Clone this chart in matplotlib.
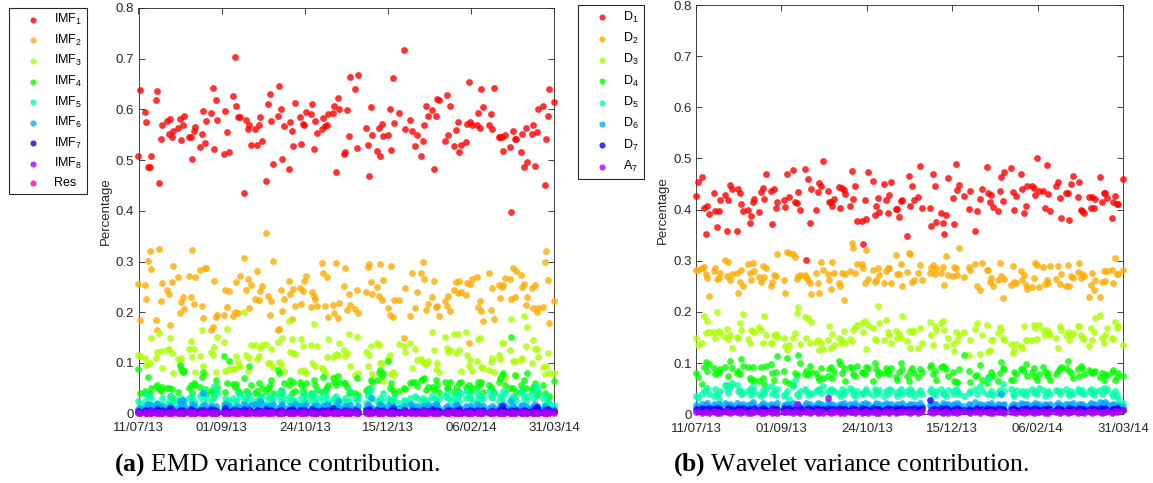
import numpy as np
import pandas as pd
import matplotlib
matplotlib.use('Agg')
import matplotlib.pyplot as plt
import matplotlib.dates as mdates

plt.rcParams['font.family'] = ['Liberation Sans', 'DejaVu Sans']
plt.rcParams['mathtext.fontset'] = 'custom'
plt.rcParams['mathtext.rm'] = 'Liberation Sans'
plt.rcParams['mathtext.it'] = 'Liberation Sans:italic'
plt.rcParams['mathtext.bf'] = 'Liberation Serif:bold'

# trading days of the sample
start_date = '2013-07-11'
end_date = '2014-03-31'
holidays = ['2013-09-02', '2013-11-28', '2013-11-29', '2013-12-24', '2013-12-25',
            '2014-01-01', '2014-01-20', '2014-02-17']
tick_labels = ['11/07/13', '01/09/13', '24/10/13', '15/12/13', '06/02/14', '31/03/14']

# --- (a) EMD variance contribution ---
imf1 = [0.509, 0.639, 0.595, 0.576, 0.487, 0.487, 0.508, 0.618, 0.636, 0.455,
        0.541, 0.569, 0.577, 0.551, 0.582, 0.545, 0.557, 0.563, 0.582, 0.539, 0.570,
        0.588, 0.545, 0.545, 0.503, 0.557, 0.566, 0.526, 0.552, 0.596, 0.533,
        0.578, 0.593, 0.643, 0.521, 0.618, 0.580, 0.513, 0.596, 0.555, 0.516,
        0.627, 0.703, 0.606, 0.585, 0.585, 0.436, 0.579, 0.562, 0.570, 0.530,
        0.561, 0.529, 0.570, 0.586, 0.538, 0.459, 0.611, 0.631, 0.578, 0.492,
        0.587, 0.647, 0.601, 0.502, 0.568, 0.483, 0.575, 0.557, 0.528, 0.613,
        0.585, 0.531, 0.572, 0.569, 0.595, 0.590, 0.610, 0.522, 0.578, 0.554,
        0.561, 0.584, 0.567, 0.569, 0.590, 0.592, 0.606, 0.476, 0.622, 0.601,
        0.513, 0.516, 0.598, 0.547, 0.664, 0.640, 0.524, 0.668, 0.564, 0.530,
        0.469, 0.604, 0.549, 0.518, 0.564, 0.508, 0.572, 0.547, 0.550, 0.600,
        0.520, 0.661, 0.573, 0.592, 0.717, 0.561, 0.580, 0.558, 0.528, 0.550, 0.509,
        0.538, 0.569, 0.607, 0.587, 0.598, 0.482, 0.588, 0.620, 0.618, 0.538,
        0.628, 0.550, 0.606, 0.528, 0.560, 0.575, 0.517, 0.530, 0.535, 0.572,
        0.655, 0.575, 0.570, 0.570, 0.593, 0.563, 0.640, 0.604, 0.570, 0.591,
        0.561, 0.643, 0.545, 0.545, 0.545, 0.518, 0.549, 0.526, 0.397, 0.557,
        0.542, 0.542, 0.517, 0.552, 0.486, 0.564, 0.497, 0.552, 0.569, 0.488,
        0.555, 0.600, 0.607, 0.450, 0.542, 0.587, 0.640, 0.615]
imf2 = [0.255, 0.185, 0.254, 0.226, 0.302, 0.321, 0.286, 0.184, 0.166, 0.325,
        0.222, 0.257, 0.243, 0.236, 0.174, 0.260, 0.291, 0.270, 0.199, 0.220, 0.231,
        0.207, 0.272, 0.230, 0.323, 0.217, 0.269, 0.283, 0.212, 0.189, 0.288,
        0.287, 0.166, 0.171, 0.261, 0.191, 0.194, 0.195, 0.243, 0.211, 0.241,
        0.193, 0.201, 0.259, 0.199, 0.272, 0.308, 0.244, 0.265, 0.208, 0.254,
        0.226, 0.282, 0.225, 0.242, 0.251, 0.357, 0.232, 0.195, 0.222, 0.302,
        0.166, 0.167, 0.244, 0.203, 0.226, 0.261, 0.237, 0.186, 0.245, 0.213,
        0.248, 0.216, 0.241, 0.262, 0.272, 0.211, 0.240, 0.232, 0.226, 0.212,
        0.297, 0.278, 0.212, 0.269, 0.191, 0.214, 0.198, 0.297, 0.188, 0.218,
        0.251, 0.288, 0.205, 0.236, 0.214, 0.207, 0.243, 0.198, 0.240, 0.290,
        0.295, 0.259, 0.236, 0.249, 0.232, 0.295, 0.224, 0.264, 0.209, 0.195,
        0.291, 0.190, 0.224, 0.224, 0.149, 0.248, 0.192, 0.278, 0.209, 0.240, 0.277,
        0.299, 0.266, 0.205, 0.216, 0.230, 0.262, 0.210, 0.213, 0.193, 0.222,
        0.212, 0.232, 0.202, 0.243, 0.259, 0.238, 0.261, 0.239, 0.235, 0.257,
        0.140, 0.255, 0.266, 0.269, 0.211, 0.222, 0.203, 0.183, 0.278, 0.204,
        0.247, 0.186, 0.254, 0.229, 0.249, 0.254, 0.267, 0.266, 0.227, 0.287,
        0.231, 0.282, 0.274, 0.249, 0.255, 0.214, 0.230, 0.247, 0.209, 0.253,
        0.201, 0.208, 0.211, 0.300, 0.321, 0.264, 0.178, 0.223]
imf3 = [0.115, 0.113, 0.110, 0.097, 0.098, 0.100, 0.150, 0.110, 0.122, 0.160,
        0.123, 0.090, 0.125, 0.127, 0.150, 0.120, 0.081, 0.108, 0.097, 0.110, 0.083,
        0.085, 0.128, 0.143, 0.111, 0.128, 0.082, 0.113, 0.165, 0.095, 0.078,
        0.048, 0.122, 0.116, 0.131, 0.082, 0.152, 0.142, 0.085, 0.168, 0.088,
        0.089, 0.090, 0.113, 0.102, 0.095, 0.200, 0.115, 0.085, 0.110, 0.135,
        0.135, 0.107, 0.113, 0.130, 0.135, 0.137, 0.100, 0.100, 0.128, 0.093,
        0.142, 0.102, 0.098, 0.150, 0.085, 0.183, 0.122, 0.148, 0.120, 0.117,
        0.085, 0.148, 0.133, 0.086, 0.080, 0.135, 0.100, 0.177, 0.095, 0.133,
        0.090, 0.088, 0.080, 0.112, 0.148, 0.112, 0.072, 0.117, 0.115, 0.140,
        0.125, 0.113, 0.120, 0.157, 0.095, 0.076, 0.152, 0.080, 0.122, 0.095,
        0.115, 0.134, 0.078, 0.139, 0.136, 0.100, 0.100, 0.065, 0.110, 0.116,
        0.078, 0.082, 0.077, 0.137, 0.133, 0.122, 0.140, 0.090, 0.128, 0.105, 0.107,
        0.102, 0.100, 0.098, 0.103, 0.162, 0.125, 0.088, 0.100, 0.082, 0.152,
        0.130, 0.122, 0.125, 0.157, 0.120, 0.157, 0.126, 0.085, 0.162, 0.115,
        0.095, 0.105, 0.085, 0.103, 0.148, 0.150, 0.093, 0.090, 0.087, 0.102,
        0.110, 0.082, 0.115, 0.108, 0.139, 0.139, 0.072, 0.125, 0.187, 0.103,
        0.103, 0.075, 0.105, 0.110, 0.192, 0.133, 0.170, 0.100, 0.145, 0.128,
        0.128, 0.112, 0.093, 0.078, 0.095, 0.120, 0.080, 0.080]
imf4 = [0.088, 0.041, 0.045, 0.040, 0.073, 0.040, 0.050, 0.053, 0.057, 0.049,
        0.045, 0.052, 0.050, 0.050, 0.034, 0.048, 0.030, 0.043, 0.096, 0.089, 0.083,
        0.085, 0.050, 0.057, 0.040, 0.060, 0.057, 0.053, 0.073, 0.083, 0.040,
        0.040, 0.045, 0.047, 0.035, 0.066, 0.053, 0.114, 0.043, 0.060, 0.103,
        0.059, 0.053, 0.059, 0.045, 0.040, 0.070, 0.045, 0.040, 0.095, 0.057,
        0.040, 0.045, 0.060, 0.035, 0.050, 0.045, 0.050, 0.057, 0.066, 0.040,
        0.086, 0.080, 0.047, 0.043, 0.060, 0.057, 0.066, 0.040, 0.063, 0.045,
        0.063, 0.057, 0.047, 0.040, 0.061, 0.040, 0.035, 0.066, 0.057, 0.047,
        0.043, 0.073, 0.047, 0.053, 0.057, 0.070, 0.063, 0.057, 0.074, 0.063,
        0.060, 0.060, 0.053, 0.040, 0.043, 0.040, 0.070, 0.037, 0.047, 0.040,
        0.050, 0.066, 0.063, 0.066, 0.080, 0.086, 0.074, 0.080, 0.103, 0.050,
        0.060, 0.047, 0.040, 0.045, 0.050, 0.048, 0.060, 0.062, 0.063, 0.055, 0.066,
        0.068, 0.070, 0.047, 0.053, 0.053, 0.047, 0.066, 0.057, 0.042, 0.063,
        0.050, 0.050, 0.063, 0.043, 0.053, 0.045, 0.060, 0.063, 0.053, 0.047,
        0.057, 0.043, 0.050, 0.053, 0.063, 0.057, 0.063, 0.043, 0.057, 0.053,
        0.047, 0.043, 0.063, 0.070, 0.076, 0.080, 0.057, 0.050, 0.152, 0.050,
        0.076, 0.043, 0.057, 0.047, 0.066, 0.050, 0.080, 0.047, 0.053, 0.060,
        0.037, 0.040, 0.057, 0.040, 0.034, 0.030, 0.034, 0.065]
imf5 = [0.026, 0.020, 0.025, 0.038, 0.035, 0.018, 0.030, 0.020, 0.022, 0.015,
        0.020, 0.030, 0.018, 0.025, 0.035, 0.025, 0.020, 0.028, 0.020, 0.030, 0.025,
        0.022, 0.030, 0.028, 0.035, 0.025, 0.020, 0.035, 0.040, 0.025, 0.048,
        0.035, 0.025, 0.030, 0.055, 0.045, 0.040, 0.020, 0.030, 0.028, 0.025,
        0.030, 0.020, 0.025, 0.040, 0.035, 0.025, 0.030, 0.038, 0.030, 0.020,
        0.025, 0.020, 0.030, 0.028, 0.035, 0.020, 0.030, 0.035, 0.025, 0.030,
        0.040, 0.035, 0.025, 0.045, 0.030, 0.025, 0.035, 0.028, 0.020, 0.025,
        0.020, 0.030, 0.040, 0.025, 0.030, 0.038, 0.025, 0.040, 0.022, 0.030,
        0.035, 0.025, 0.040, 0.030, 0.020, 0.025, 0.030, 0.035, 0.028, 0.020,
        0.025, 0.030, 0.020, 0.025, 0.045, 0.030, 0.025, 0.030, 0.022, 0.035,
        0.040, 0.048, 0.030, 0.025, 0.020, 0.030, 0.025, 0.040, 0.030, 0.028,
        0.020, 0.025, 0.030, 0.022, 0.028, 0.025, 0.030, 0.020, 0.035, 0.030, 0.025,
        0.030, 0.025, 0.020, 0.028, 0.035, 0.030, 0.022, 0.025, 0.030, 0.035,
        0.040, 0.030, 0.025, 0.030, 0.040, 0.035, 0.025, 0.040, 0.030, 0.045,
        0.035, 0.030, 0.025, 0.040, 0.030, 0.035, 0.025, 0.030, 0.045, 0.035,
        0.030, 0.040, 0.025, 0.035, 0.030, 0.045, 0.040, 0.025, 0.030, 0.035,
        0.030, 0.025, 0.045, 0.040, 0.030, 0.025, 0.035, 0.040, 0.030, 0.055,
        0.050, 0.040, 0.030, 0.020, 0.035, 0.025, 0.020, 0.018]
imf6 = [0.010, 0.012, 0.008, 0.015, 0.020, 0.010, 0.018, 0.012, 0.020, 0.015,
        0.010, 0.015, 0.012, 0.008, 0.015, 0.012, 0.010, 0.012, 0.025, 0.020, 0.028,
        0.015, 0.010, 0.012, 0.020, 0.015, 0.008, 0.010, 0.015, 0.040, 0.018,
        0.010, 0.015, 0.012, 0.010, 0.015, 0.008, 0.012, 0.020, 0.018, 0.015,
        0.010, 0.012, 0.008, 0.015, 0.010, 0.020, 0.015, 0.012, 0.010, 0.018,
        0.020, 0.015, 0.010, 0.025, 0.020, 0.012, 0.015, 0.010, 0.015, 0.020,
        0.012, 0.010, 0.015, 0.020, 0.012, 0.008, 0.015, 0.010, 0.012, 0.020,
        0.015, 0.012, 0.010, 0.015, 0.020, 0.010, 0.012, 0.015, 0.010, 0.018,
        0.012, 0.015, 0.010, 0.020, 0.015, 0.012, 0.010, 0.015, 0.025, 0.012,
        0.010, 0.015, 0.012, 0.010, 0.018, 0.012, 0.010, 0.015, 0.012, 0.020,
        0.015, 0.030, 0.012, 0.010, 0.015, 0.020, 0.015, 0.012, 0.018, 0.010,
        0.012, 0.015, 0.010, 0.012, 0.015, 0.010, 0.020, 0.015, 0.012, 0.015, 0.010,
        0.015, 0.012, 0.010, 0.018, 0.015, 0.012, 0.020, 0.015, 0.010, 0.012,
        0.015, 0.012, 0.010, 0.015, 0.020, 0.015, 0.012, 0.010, 0.015, 0.012,
        0.010, 0.015, 0.012, 0.020, 0.015, 0.012, 0.010, 0.015, 0.012, 0.010,
        0.015, 0.012, 0.010, 0.015, 0.012, 0.020, 0.015, 0.012, 0.025, 0.015,
        0.012, 0.010, 0.015, 0.018, 0.012, 0.015, 0.010, 0.012, 0.015, 0.020,
        0.015, 0.012, 0.010, 0.015, 0.012, 0.010, 0.008, 0.010]
imf7 = [0.006, 0.004, 0.008, 0.005, 0.003, 0.007, 0.004, 0.006, 0.009, 0.005,
        0.004, 0.007, 0.005, 0.003, 0.012, 0.005, 0.006, 0.004, 0.008, 0.005, 0.007,
        0.003, 0.005, 0.009, 0.004, 0.006, 0.003, 0.008, 0.005, 0.007, 0.004,
        0.006, 0.010, 0.004, 0.007, 0.005, 0.003, 0.006, 0.012, 0.005, 0.004,
        0.007, 0.005, 0.008, 0.004, 0.006, 0.010, 0.005, 0.003, 0.007, 0.006,
        0.004, 0.008, 0.005, 0.006, 0.003, 0.009, 0.005, 0.004, 0.007, 0.005,
        0.006, 0.004, 0.008, 0.005, 0.003, 0.007, 0.006, 0.010, 0.004, 0.005,
        0.007, 0.005, 0.004, 0.008, 0.006, 0.003, 0.009, 0.005, 0.004, 0.006,
        0.008, 0.005, 0.006, 0.004, 0.007, 0.012, 0.005, 0.003, 0.006, 0.004,
        0.005, 0.008, 0.004, 0.006, 0.003, 0.007, 0.005, 0.004, 0.008, 0.006,
        0.010, 0.005, 0.004, 0.007, 0.006, 0.003, 0.005, 0.008, 0.004, 0.006,
        0.005, 0.012, 0.006, 0.004, 0.007, 0.005, 0.003, 0.008, 0.006, 0.006, 0.004,
        0.007, 0.005, 0.004, 0.006, 0.009, 0.005, 0.003, 0.007, 0.006, 0.004,
        0.005, 0.008, 0.006, 0.004, 0.007, 0.005, 0.010, 0.004, 0.006, 0.005,
        0.004, 0.007, 0.005, 0.008, 0.006, 0.003, 0.005, 0.007, 0.004, 0.006,
        0.006, 0.004, 0.008, 0.005, 0.015, 0.010, 0.006, 0.004, 0.007, 0.005,
        0.005, 0.007, 0.004, 0.006, 0.008, 0.005, 0.003, 0.006, 0.007, 0.012,
        0.014, 0.006, 0.004, 0.007, 0.005, 0.010, 0.004, 0.005]
imf8 = [0.003, 0.002, 0.004, 0.002, 0.003, 0.005, 0.002, 0.003, 0.004, 0.002,
        0.003, 0.002, 0.004, 0.003, 0.002, 0.003, 0.005, 0.002, 0.003, 0.004,
        0.002, 0.003, 0.006, 0.002, 0.004, 0.003, 0.002, 0.003, 0.004, 0.002,
        0.003, 0.005, 0.002, 0.003, 0.004, 0.002, 0.003, 0.002, 0.004, 0.003,
        0.002, 0.004, 0.003, 0.005, 0.002, 0.003, 0.004, 0.002, 0.003, 0.006,
        0.003, 0.002, 0.004, 0.003, 0.002, 0.005, 0.003, 0.002, 0.004, 0.003,
        0.004, 0.002, 0.003, 0.002, 0.005, 0.003, 0.002, 0.004, 0.003, 0.002,
        0.003, 0.004, 0.002, 0.003, 0.005, 0.002, 0.003, 0.004, 0.002, 0.003,
        0.002, 0.003, 0.004, 0.002, 0.006, 0.003, 0.002, 0.004, 0.003, 0.002,
        0.004, 0.003, 0.002, 0.005, 0.003, 0.002, 0.004, 0.003, 0.002, 0.003,
        0.003, 0.002, 0.004, 0.003, 0.005, 0.002, 0.003, 0.002, 0.004, 0.003,
        0.002, 0.004, 0.003, 0.002, 0.003, 0.005, 0.002, 0.004, 0.003, 0.002,
        0.003, 0.002, 0.005, 0.003, 0.002, 0.004, 0.003, 0.002, 0.003, 0.004,
        0.002, 0.003, 0.004, 0.002, 0.003, 0.005, 0.002, 0.003, 0.004, 0.002,
        0.003, 0.004, 0.002, 0.003, 0.002, 0.004, 0.003, 0.005, 0.002, 0.003,
        0.004, 0.002, 0.003, 0.005, 0.002, 0.003, 0.004, 0.002, 0.003, 0.002,
        0.003, 0.004, 0.002, 0.003, 0.005, 0.002, 0.003, 0.004, 0.002, 0.003,
        0.002, 0.003, 0.004, 0.002, 0.003, 0.005, 0.002, 0.003, 0.004, 0.003]
res = [0.001, 0.001, 0.001, 0.001, 0.001, 0.001, 0.001, 0.001, 0.001, 0.001,
       0.001, 0.001, 0.001, 0.001, 0.001, 0.001, 0.001, 0.001, 0.001, 0.001,
       0.001, 0.001, 0.001, 0.001, 0.001, 0.001, 0.001, 0.001, 0.001, 0.004,
       0.001, 0.001, 0.001, 0.001, 0.001, 0.001, 0.001, 0.001, 0.001, 0.001,
       0.001, 0.001, 0.001, 0.001, 0.001, 0.001, 0.001, 0.001, 0.001, 0.001,
       0.001, 0.001, 0.001, 0.001, 0.001, 0.001, 0.001, 0.001, 0.001, 0.001,
       0.001, 0.001, 0.001, 0.001, 0.001, 0.001, 0.001, 0.001, 0.001, 0.001,
       0.001, 0.001, 0.001, 0.001, 0.001, 0.004, 0.001, 0.001, 0.001, 0.001,
       0.001, 0.001, 0.001, 0.001, 0.001, 0.001, 0.001, 0.001, 0.001, 0.001,
       0.001, 0.001, 0.001, 0.001, 0.001, 0.001, 0.001, 0.001, 0.001, 0.001,
       0.001, 0.001, 0.001, 0.001, 0.001, 0.001, 0.001, 0.003, 0.001, 0.001,
       0.001, 0.001, 0.001, 0.001, 0.001, 0.001, 0.001, 0.001, 0.001, 0.001,
       0.001, 0.001, 0.001, 0.001, 0.001, 0.001, 0.001, 0.001, 0.001, 0.001,
       0.001, 0.001, 0.001, 0.001, 0.001, 0.001, 0.001, 0.001, 0.001, 0.001,
       0.001, 0.001, 0.001, 0.004, 0.001, 0.001, 0.001, 0.001, 0.001, 0.001,
       0.001, 0.001, 0.001, 0.001, 0.001, 0.001, 0.001, 0.001, 0.001, 0.001,
       0.001, 0.001, 0.001, 0.004, 0.001, 0.001, 0.001, 0.001, 0.001, 0.001,
       0.001, 0.001, 0.001, 0.001, 0.001, 0.001, 0.001, 0.001, 0.001, 0.001]

# --- (b) Wavelet variance contribution ---
d1 = [0.427, 0.454, 0.463, 0.404, 0.352, 0.408, 0.392, 0.433, 0.397, 0.367,
      0.397, 0.418, 0.428, 0.359, 0.418, 0.449, 0.441, 0.358, 0.440, 0.433,
      0.412, 0.397, 0.400, 0.373, 0.388, 0.415, 0.420, 0.395, 0.435, 0.443,
      0.420, 0.469, 0.436, 0.371, 0.440, 0.404, 0.414, 0.418, 0.405, 0.469,
      0.424, 0.477, 0.415, 0.413, 0.435, 0.400, 0.479, 0.301, 0.459, 0.373, 0.441,
      0.400, 0.435, 0.452, 0.446, 0.495, 0.436, 0.415, 0.415, 0.408, 0.420,
      0.444, 0.404, 0.442, 0.438, 0.430, 0.408, 0.475, 0.420, 0.446, 0.377,
      0.377, 0.332, 0.418, 0.382, 0.474, 0.456, 0.390, 0.408, 0.422, 0.395, 0.450,
      0.418, 0.394, 0.428, 0.454, 0.402, 0.402, 0.386, 0.416, 0.418, 0.348,
      0.465, 0.408, 0.446, 0.418, 0.425, 0.486, 0.403, 0.403, 0.369, 0.469,
      0.446, 0.375, 0.394, 0.373, 0.352, 0.389, 0.461, 0.422, 0.371, 0.489,
      0.439, 0.449, 0.427, 0.401, 0.437, 0.359, 0.397, 0.420, 0.440, 0.484,
      0.433, 0.415, 0.428, 0.405, 0.397, 0.437, 0.464, 0.416, 0.473, 0.482,
      0.435, 0.399, 0.426, 0.469, 0.440, 0.393, 0.408, 0.446, 0.446, 0.443,
      0.429, 0.501, 0.437, 0.436, 0.404, 0.488, 0.431, 0.397, 0.446, 0.454,
      0.423, 0.383, 0.433, 0.433, 0.380, 0.450, 0.465, 0.424, 0.454, 0.400,
      0.397, 0.393, 0.425, 0.404, 0.425, 0.404, 0.420, 0.463, 0.414, 0.433,
      0.433, 0.423, 0.384, 0.414, 0.427, 0.412, 0.411, 0.459]
d2 = [0.282, 0.282, 0.285, 0.288, 0.274, 0.267, 0.231, 0.280, 0.285, 0.265,
      0.267, 0.277, 0.301, 0.270, 0.298, 0.262, 0.274, 0.276, 0.238, 0.259,
      0.283, 0.250, 0.293, 0.276, 0.262, 0.296, 0.280, 0.269, 0.259, 0.290,
      0.269, 0.286, 0.250, 0.259, 0.272, 0.270, 0.313, 0.263, 0.237, 0.318,
      0.316, 0.313, 0.308, 0.265, 0.270, 0.272, 0.272, 0.268, 0.262, 0.256, 0.235,
      0.276, 0.256, 0.237, 0.298, 0.283, 0.274, 0.263, 0.244, 0.297, 0.276,
      0.256, 0.250, 0.276, 0.223, 0.274, 0.280, 0.334, 0.326, 0.276, 0.293,
      0.293, 0.285, 0.256, 0.322, 0.265, 0.282, 0.259, 0.263, 0.285, 0.272, 0.256,
      0.280, 0.285, 0.285, 0.256, 0.311, 0.275, 0.275, 0.293, 0.250, 0.278,
      0.316, 0.313, 0.259, 0.262, 0.276, 0.292, 0.262, 0.276, 0.285, 0.292,
      0.274, 0.285, 0.276, 0.288, 0.252, 0.309, 0.272, 0.270, 0.288, 0.285,
      0.272, 0.326, 0.269, 0.288, 0.282, 0.293, 0.250, 0.242, 0.296, 0.282,
      0.283, 0.259, 0.267, 0.250, 0.262, 0.295, 0.270, 0.228, 0.265, 0.252,
      0.290, 0.259, 0.257, 0.280, 0.262, 0.272, 0.252, 0.244, 0.248, 0.267,
      0.295, 0.292, 0.248, 0.288, 0.254, 0.262, 0.256, 0.290, 0.265, 0.290,
      0.254, 0.275, 0.250, 0.292, 0.250, 0.270, 0.267, 0.278, 0.296, 0.267,
      0.274, 0.270, 0.229, 0.252, 0.276, 0.242, 0.262, 0.229, 0.259, 0.280,
      0.261, 0.280, 0.282, 0.257, 0.305, 0.274, 0.275, 0.283]
d3 = [0.150, 0.135, 0.140, 0.193, 0.158, 0.182, 0.160, 0.160, 0.150, 0.200,
      0.162, 0.158, 0.152, 0.167, 0.148, 0.155, 0.130, 0.152, 0.150, 0.178,
      0.165, 0.197, 0.148, 0.140, 0.165, 0.162, 0.160, 0.170, 0.165, 0.140,
      0.192, 0.155, 0.140, 0.140, 0.155, 0.157, 0.152, 0.150, 0.133, 0.125,
      0.135, 0.150, 0.158, 0.198, 0.210, 0.138, 0.190, 0.150, 0.188, 0.140, 0.180,
      0.142, 0.145, 0.125, 0.140, 0.128, 0.145, 0.173, 0.130, 0.157, 0.135,
      0.150, 0.140, 0.145, 0.163, 0.140, 0.148, 0.143, 0.165, 0.170, 0.175,
      0.178, 0.160, 0.183, 0.127, 0.175, 0.168, 0.148, 0.145, 0.212, 0.178, 0.145,
      0.185, 0.160, 0.155, 0.140, 0.163, 0.150, 0.157, 0.150, 0.193, 0.143,
      0.162, 0.130, 0.162, 0.163, 0.130, 0.168, 0.140, 0.180, 0.155, 0.135,
      0.172, 0.165, 0.178, 0.182, 0.165, 0.133, 0.150, 0.138, 0.123, 0.160,
      0.145, 0.155, 0.160, 0.115, 0.145, 0.167, 0.178, 0.118, 0.155, 0.175,
      0.122, 0.125, 0.145, 0.145, 0.158, 0.170, 0.165, 0.150, 0.145, 0.137,
      0.120, 0.125, 0.137, 0.133, 0.130, 0.173, 0.145, 0.145, 0.145, 0.175,
      0.168, 0.148, 0.175, 0.165, 0.155, 0.165, 0.160, 0.155, 0.150, 0.130,
      0.172, 0.165, 0.155, 0.160, 0.145, 0.155, 0.158, 0.172, 0.172, 0.155,
      0.150, 0.148, 0.133, 0.168, 0.145, 0.160, 0.188, 0.195, 0.150, 0.140,
      0.155, 0.168, 0.150, 0.148, 0.180, 0.168, 0.172, 0.135]
d4 = [0.080, 0.072, 0.060, 0.093, 0.103, 0.085, 0.098, 0.090, 0.078, 0.080,
      0.082, 0.088, 0.092, 0.057, 0.075, 0.105, 0.090, 0.080, 0.085, 0.078,
      0.108, 0.095, 0.092, 0.070, 0.068, 0.092, 0.068, 0.065, 0.093, 0.070,
      0.060, 0.095, 0.098, 0.080, 0.068, 0.083, 0.113, 0.085, 0.065, 0.110,
      0.062, 0.058, 0.080, 0.077, 0.115, 0.100, 0.078, 0.085, 0.077, 0.095, 0.083,
      0.080, 0.072, 0.068, 0.090, 0.070, 0.075, 0.088, 0.092, 0.070, 0.082,
      0.105, 0.098, 0.080, 0.090, 0.065, 0.093, 0.090, 0.078, 0.075, 0.095,
      0.083, 0.080, 0.078, 0.093, 0.090, 0.065, 0.100, 0.088, 0.076, 0.082, 0.080,
      0.090, 0.085, 0.078, 0.090, 0.072, 0.068, 0.082, 0.100, 0.088, 0.075,
      0.065, 0.085, 0.090, 0.080, 0.072, 0.088, 0.083, 0.092, 0.097, 0.078,
      0.085, 0.068, 0.093, 0.095, 0.092, 0.088, 0.075, 0.083, 0.065, 0.063,
      0.063, 0.088, 0.115, 0.085, 0.063, 0.075, 0.077, 0.097, 0.068, 0.062,
      0.072, 0.075, 0.083, 0.075, 0.065, 0.080, 0.103, 0.090, 0.088, 0.068,
      0.068, 0.082, 0.078, 0.088, 0.088, 0.085, 0.098, 0.075, 0.083, 0.090,
      0.072, 0.068, 0.078, 0.092, 0.083, 0.075, 0.080, 0.068, 0.078, 0.085,
      0.088, 0.092, 0.090, 0.105, 0.085, 0.080, 0.070, 0.088, 0.075, 0.095,
      0.090, 0.078, 0.086, 0.083, 0.080, 0.082, 0.085, 0.072, 0.080, 0.068,
      0.078, 0.077, 0.082, 0.086, 0.068, 0.072, 0.080, 0.075]
d5 = [0.035, 0.032, 0.040, 0.045, 0.048, 0.052, 0.040, 0.035, 0.050, 0.040,
      0.030, 0.045, 0.058, 0.050, 0.042, 0.055, 0.062, 0.058, 0.045, 0.048,
      0.040, 0.042, 0.045, 0.050, 0.038, 0.055, 0.045, 0.040, 0.035, 0.048,
      0.042, 0.050, 0.055, 0.040, 0.045, 0.038, 0.050, 0.035, 0.040, 0.045,
      0.030, 0.055, 0.068, 0.040, 0.035, 0.045, 0.050, 0.045, 0.038, 0.042, 0.040,
      0.045, 0.048, 0.050, 0.042, 0.055, 0.045, 0.040, 0.050, 0.048, 0.045,
      0.042, 0.035, 0.050, 0.040, 0.045, 0.052, 0.048, 0.040, 0.035, 0.045,
      0.040, 0.042, 0.045, 0.050, 0.042, 0.038, 0.050, 0.045, 0.040, 0.048, 0.035,
      0.045, 0.040, 0.050, 0.048, 0.042, 0.035, 0.045, 0.050, 0.040, 0.045,
      0.040, 0.050, 0.045, 0.035, 0.042, 0.048, 0.040, 0.045, 0.050, 0.040,
      0.038, 0.045, 0.050, 0.042, 0.040, 0.035, 0.048, 0.045, 0.040, 0.050,
      0.045, 0.040, 0.035, 0.042, 0.045, 0.050, 0.040, 0.055, 0.045, 0.040,
      0.070, 0.040, 0.045, 0.038, 0.042, 0.048, 0.040, 0.060, 0.045, 0.050,
      0.040, 0.035, 0.048, 0.042, 0.045, 0.040, 0.038, 0.045, 0.050, 0.042,
      0.045, 0.040, 0.052, 0.048, 0.035, 0.042, 0.045, 0.040, 0.048, 0.045,
      0.040, 0.045, 0.050, 0.042, 0.038, 0.045, 0.040, 0.050, 0.045, 0.042,
      0.048, 0.040, 0.045, 0.050, 0.042, 0.038, 0.045, 0.048, 0.040, 0.052,
      0.045, 0.050, 0.040, 0.035, 0.045, 0.038, 0.030, 0.022]
d6 = [0.018, 0.015, 0.020, 0.012, 0.018, 0.022, 0.015, 0.020, 0.017, 0.013,
      0.020, 0.016, 0.022, 0.018, 0.014, 0.020, 0.017, 0.023, 0.015, 0.019,
      0.016, 0.021, 0.018, 0.014, 0.020, 0.024, 0.017, 0.015, 0.019, 0.022,
      0.015, 0.018, 0.021, 0.016, 0.019, 0.014, 0.022, 0.018, 0.016, 0.020,
      0.018, 0.023, 0.016, 0.019, 0.021, 0.015, 0.018, 0.022, 0.017, 0.020,
      0.014, 0.019, 0.022, 0.017, 0.020, 0.016, 0.024, 0.018, 0.021, 0.015,
      0.019, 0.016, 0.021, 0.018, 0.023, 0.017, 0.020, 0.015, 0.019, 0.022,
      0.017, 0.020, 0.016, 0.022, 0.018, 0.021, 0.015, 0.019, 0.023, 0.017,
      0.020, 0.018, 0.022, 0.016, 0.019, 0.021, 0.017, 0.020, 0.015, 0.018,
      0.022, 0.017, 0.019, 0.021, 0.016, 0.020, 0.018, 0.023, 0.017, 0.019,
      0.016, 0.021, 0.018, 0.020, 0.015, 0.022, 0.019, 0.017, 0.021, 0.018,
      0.020, 0.017, 0.022, 0.018, 0.016, 0.021, 0.019, 0.024, 0.017, 0.020,
      0.018, 0.021, 0.016, 0.019, 0.022, 0.017, 0.020, 0.018, 0.040, 0.019,
      0.021, 0.017, 0.020, 0.016, 0.019, 0.022, 0.018, 0.020, 0.017, 0.021,
      0.019, 0.016, 0.022, 0.018, 0.020, 0.017, 0.021, 0.019, 0.016, 0.020,
      0.018, 0.022, 0.017, 0.019, 0.021, 0.016, 0.020, 0.018, 0.023, 0.017,
      0.020, 0.018, 0.021, 0.016, 0.019, 0.022, 0.017, 0.020, 0.018, 0.025,
      0.022, 0.019, 0.024, 0.020, 0.018, 0.021, 0.017, 0.016, 0.018, 0.015]
d7 = [0.010, 0.008, 0.012, 0.009, 0.011, 0.007, 0.013, 0.010, 0.008, 0.012,
      0.009, 0.011, 0.007, 0.010, 0.013, 0.008, 0.011, 0.009, 0.012, 0.010,
      0.008, 0.012, 0.010, 0.007, 0.011, 0.009, 0.013, 0.008, 0.010, 0.012,
      0.011, 0.009, 0.007, 0.012, 0.010, 0.008, 0.011, 0.013, 0.009, 0.010,
      0.012, 0.008, 0.010, 0.011, 0.009, 0.013, 0.007, 0.010, 0.012, 0.008,
      0.010, 0.012, 0.009, 0.011, 0.008, 0.010, 0.013, 0.009, 0.011, 0.007,
      0.011, 0.009, 0.012, 0.008, 0.010, 0.011, 0.009, 0.013, 0.008, 0.010,
      0.009, 0.012, 0.010, 0.008, 0.011, 0.009, 0.012, 0.010, 0.007, 0.011,
      0.010, 0.008, 0.011, 0.013, 0.009, 0.010, 0.012, 0.008, 0.011, 0.009,
      0.012, 0.010, 0.008, 0.011, 0.009, 0.013, 0.010, 0.008, 0.012, 0.028,
      0.009, 0.011, 0.010, 0.008, 0.012, 0.009, 0.011, 0.013, 0.010, 0.008,
      0.011, 0.009, 0.012, 0.010, 0.008, 0.011, 0.009, 0.010, 0.012, 0.008,
      0.010, 0.012, 0.009, 0.011, 0.008, 0.010, 0.013, 0.009, 0.011, 0.010,
      0.008, 0.011, 0.010, 0.012, 0.009, 0.011, 0.008, 0.010, 0.013, 0.009,
      0.011, 0.009, 0.012, 0.010, 0.008, 0.011, 0.010, 0.009, 0.012, 0.010,
      0.009, 0.012, 0.010, 0.011, 0.008, 0.010, 0.013, 0.009, 0.011, 0.010,
      0.012, 0.009, 0.011, 0.010, 0.008, 0.012, 0.010, 0.009, 0.011, 0.013,
      0.010, 0.008, 0.012, 0.009, 0.011, 0.010, 0.008, 0.012, 0.010, 0.009]
a7 = [0.004, 0.006, 0.003, 0.005, 0.007, 0.004, 0.002, 0.006, 0.005, 0.003,
      0.005, 0.003, 0.007, 0.004, 0.006, 0.002, 0.005, 0.004, 0.006, 0.003,
      0.006, 0.004, 0.002, 0.005, 0.003, 0.007, 0.004, 0.006, 0.003, 0.005,
      0.003, 0.005, 0.006, 0.002, 0.004, 0.007, 0.003, 0.005, 0.004, 0.006,
      0.004, 0.002, 0.006, 0.020, 0.005, 0.003, 0.007, 0.004, 0.006, 0.003,
      0.005, 0.007, 0.003, 0.004, 0.006, 0.002, 0.032, 0.005, 0.003, 0.006,
      0.004, 0.006, 0.002, 0.005, 0.003, 0.007, 0.004, 0.005, 0.006, 0.003,
      0.006, 0.003, 0.005, 0.004, 0.007, 0.002, 0.005, 0.006, 0.003, 0.004,
      0.003, 0.005, 0.007, 0.004, 0.002, 0.006, 0.003, 0.005, 0.004, 0.006,
      0.005, 0.004, 0.006, 0.003, 0.005, 0.007, 0.002, 0.004, 0.006, 0.005,
      0.007, 0.003, 0.004, 0.006, 0.005, 0.002, 0.004, 0.006, 0.003, 0.005,
      0.004, 0.006, 0.003, 0.005, 0.007, 0.004, 0.002, 0.005, 0.006, 0.003,
      0.006, 0.004, 0.005, 0.002, 0.006, 0.003, 0.005, 0.007, 0.004, 0.005,
      0.003, 0.005, 0.006, 0.004, 0.002, 0.005, 0.007, 0.003, 0.006, 0.004,
      0.005, 0.003, 0.006, 0.005, 0.004, 0.007, 0.003, 0.005, 0.002, 0.006,
      0.004, 0.006, 0.003, 0.005, 0.007, 0.002, 0.005, 0.004, 0.006, 0.003,
      0.006, 0.004, 0.005, 0.003, 0.006, 0.005, 0.002, 0.007, 0.004, 0.005,
      0.003, 0.005, 0.004, 0.006, 0.002, 0.005, 0.007, 0.004, 0.006, 0.008]

emd_series = [imf1, imf2, imf3, imf4, imf5, imf6, imf7, imf8, res]
emd_names = [r'IMF$_{%d}$' % k for k in range(1, 9)] + ['Res']
wav_series = [d1, d2, d3, d4, d5, d6, d7, a7]
wav_names = [r'D$_{%d}$' % k for k in range(1, 8)] + [r'A$_{7}$']

# hsv(9) colours
colors = ['#ff0000', '#ffaa00', '#aaff00', '#00ff00', '#00ffaa',
          '#00aaff', '#0000ff', '#aa00ff', '#ff00aa']

days = pd.bdate_range(start_date, end_date)
days = days[~days.isin(pd.to_datetime(holidays))]

axis_col = '#262626'


def draw_panel(ax, series, names, behind=()):
    handles = []
    for k, (vals, name, col) in enumerate(zip(series, names, colors)):
        n = min(len(days), len(vals))
        # the residual sits underneath everything else
        z = 2 if name in behind else 3 + k * 0.01
        h = ax.scatter(days[:n], vals[:n], s=24, color=col, alpha=0.8,
                       linewidths=0, label=name, clip_on=False, zorder=z)
        handles.append(h)

    x0 = mdates.date2num(pd.Timestamp(start_date))
    x1 = mdates.date2num(pd.Timestamp(end_date))
    ax.set_xlim(x0, x1)
    ax.set_xticks(np.linspace(x0, x1, len(tick_labels)))
    ax.set_xticklabels(tick_labels)
    ax.set_ylim(0, 0.8)
    yt = np.round(np.arange(0, 0.81, 0.1), 1)
    ax.set_yticks(yt)
    ax.set_yticklabels(['%g' % v for v in yt])
    ax.tick_params(direction='in', top=True, right=True, length=4, width=0.6,
                   colors=axis_col, labelsize=9.5)
    ax.tick_params(axis='x', pad=6)
    ax.tick_params(axis='y', pad=3)
    for sp in ax.spines.values():
        sp.set_linewidth(0.6)
        sp.set_color(axis_col)
    ax.set_ylabel('Percentage', fontsize=9.5, color=axis_col, labelpad=3)
    return handles


fig = plt.figure(figsize=(11.53, 4.83), dpi=100)
W, H = 1153.0, 483.0
ax_a = fig.add_axes([138.5 / W, 1 - 413.7 / H, (554 - 138.5) / W, (413.7 - 8) / H])
ax_b = fig.add_axes([696 / W, 1 - 414.3 / H, (1123 - 696) / W, (414.3 - 5) / H])

h_a = draw_panel(ax_a, emd_series, emd_names, behind=('Res',))
h_b = draw_panel(ax_b, wav_series, wav_names)

leg_kw = dict(loc='upper left', fontsize=9, frameon=True, fancybox=False,
              framealpha=1, edgecolor=axis_col, borderaxespad=0,
              handlelength=3.15, handletextpad=0.1,
              borderpad=0.37, markerscale=0.9)
leg_a = fig.legend(handles=h_a, labels=emd_names, labelspacing=0.44,
                   bbox_to_anchor=(9 / W, 1 - 7.5 / H), **leg_kw)
leg_b = fig.legend(handles=h_b, labels=wav_names, labelspacing=0.5,
                   bbox_to_anchor=(578 / W, 1 - 5 / H), **leg_kw)
for leg in (leg_a, leg_b):
    leg.get_frame().set_linewidth(0.8)

cap_kw = dict(ha='center', va='center', fontsize=18.5, family='Liberation Serif')
fig.text(277 / W, 1 - 465 / H, r'$\mathbf{(a)}$ EMD variance contribution.', **cap_kw)
fig.text(851 / W, 1 - 465 / H, r'$\mathbf{(b)}$ Wavelet variance contribution.', **cap_kw)

fig.savefig('out.png', dpi=100)
